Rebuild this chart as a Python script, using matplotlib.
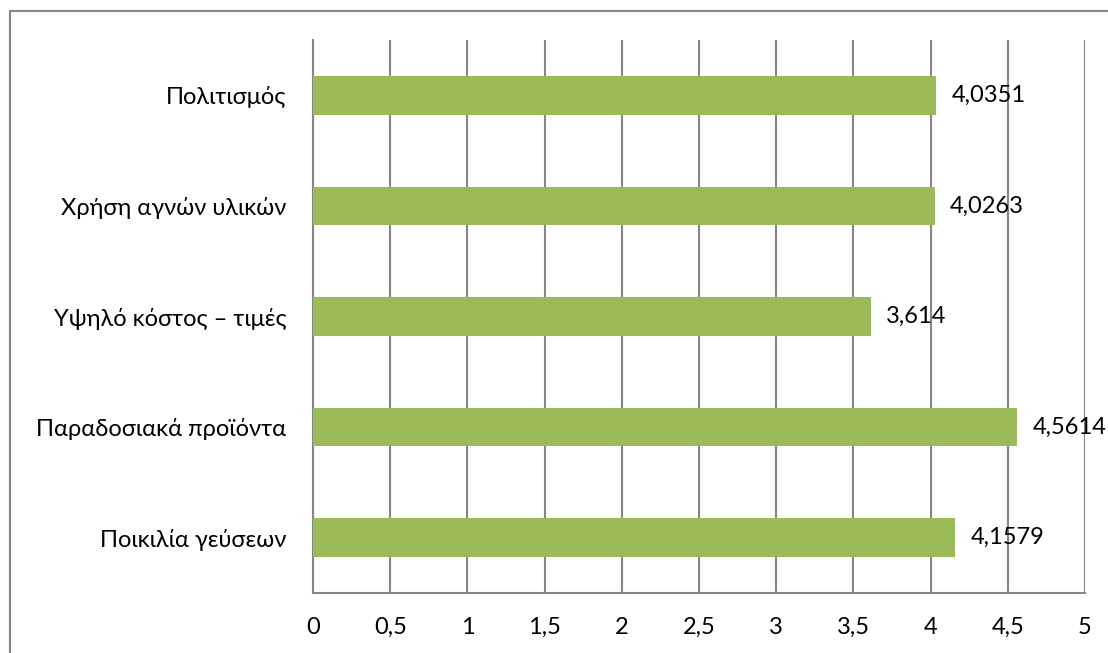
import numpy as np
import matplotlib.pyplot as plt
from matplotlib.patches import Rectangle

plt.rcParams['font.family'] = ['Lato', 'DejaVu Sans']

# ---------------------------------------------------------------
# Data (bottom to top as drawn)
# ---------------------------------------------------------------
categories = ['Ποικιλία γεύσεων', 'Παραδοσιακά προϊόντα', 'Υψηλό κόστος – τιμές',
              'Χρήση αγνών υλικών', 'Πολιτισμός']
values = [4.1579, 4.5614, 3.614, 4.0263, 4.0351]
value_labels = ['4,1579', '4,5614', '3,614', '4,0263', '4,0351']
xticks = [0, 0.5, 1, 1.5, 2, 2.5, 3, 3.5, 4, 4.5, 5]
xtick_labels = ['0', '0,5', '1', '1,5', '2', '2,5', '3', '3,5', '4', '4,5', '5']

grid_col = '#868686'
bar_col = '#9BBB59'
fs = 17

fig = plt.figure(figsize=(11.08, 6.53), dpi=100)
ax = fig.add_axes([313 / 1108, 1 - 593 / 653, (1085 - 313) / 1108, (593 - 40) / 653])

y = np.arange(len(categories))
bars = ax.barh(y, values, height=0.35, color=bar_col, zorder=3)
for b, lab in zip(bars, value_labels):
    ax.annotate(lab, (b.get_width(), b.get_y() + b.get_height() / 2),
                xytext=(11, 0), textcoords='offset points',
                va='center', ha='left', fontsize=fs, zorder=4)

ax.set_xlim(0, 5)
ax.set_ylim(-0.5, len(categories) - 0.5)
ax.set_xticks(xticks)
ax.set_xticklabels(xtick_labels)
ax.set_yticks(y)
ax.set_yticklabels(categories)
ax.tick_params(axis='both', length=0, labelsize=fs)
ax.tick_params(axis='x', pad=17)
ax.tick_params(axis='y', pad=19)

ax.xaxis.grid(True, color=grid_col, linewidth=1.5, zorder=0)
for s in ['top', 'right']:
    ax.spines[s].set_visible(False)
for s in ['left', 'bottom']:
    ax.spines[s].set_color(grid_col)
    ax.spines[s].set_linewidth(1.5)

# outer chart border (partly clipped by the image edge)
fig.patches.append(Rectangle((10 / 1108, -0.5), 2.0, 1.5 - 10.5 / 653,
                             transform=fig.transFigure, fill=False,
                             edgecolor=grid_col, linewidth=1.5))

fig.savefig('out.png', dpi=100)
